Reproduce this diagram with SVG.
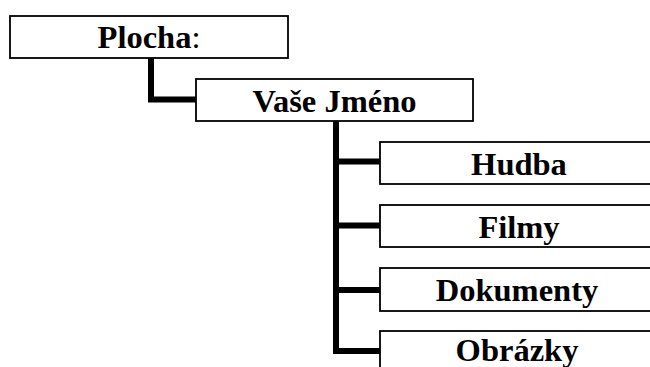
<svg xmlns="http://www.w3.org/2000/svg" width="650" height="367" viewBox="0 0 650 367">
<style>
.box{fill:#fff;stroke:#000;stroke-width:1.8}
.lbl{font-family:"Liberation Serif","Times New Roman",serif;font-weight:bold;font-size:32.5px;text-anchor:middle;fill:#000}
.conn{fill:none;stroke:#000;stroke-width:6;stroke-linejoin:miter;stroke-linecap:butt}
</style>
<rect width="650" height="367" fill="#fff"/>
<g id="connectors">
<path class="conn" d="M151,58 V99.5 H196"/>
<path class="conn" d="M336,121 V351 H380"/>
<path class="conn" d="M336,161.5 H380"/>
<path class="conn" d="M336,225.5 H380"/>
<path class="conn" d="M336,290 H380"/>
</g>
<g id="plocha">
<rect class="box" x="10" y="16" width="278" height="42" stroke-width="2.2"/>
<text class="lbl" x="149" y="48">Plocha<tspan font-weight="normal">:</tspan></text>
</g>
<g id="vase-jmeno">
<rect class="box" x="196" y="79" width="277" height="42"/>
<text class="lbl" x="334.5" y="112">Vaše Jméno</text>
</g>
<g id="hudba">
<rect class="box" x="380" y="142" width="290" height="42"/>
<text class="lbl" x="519" y="175">Hudba</text>
</g>
<g id="filmy">
<rect class="box" x="380" y="205" width="290" height="42"/>
<text class="lbl" x="519" y="238">Filmy</text>
</g>
<g id="dokumenty">
<rect class="box" x="380" y="268" width="290" height="43"/>
<text class="lbl" x="517" y="301">Dokumenty</text>
</g>
<g id="obrazky">
<rect class="box" x="380" y="331" width="290" height="50"/>
<text class="lbl" x="517" y="361">Obrázky</text>
</g>
</svg>
